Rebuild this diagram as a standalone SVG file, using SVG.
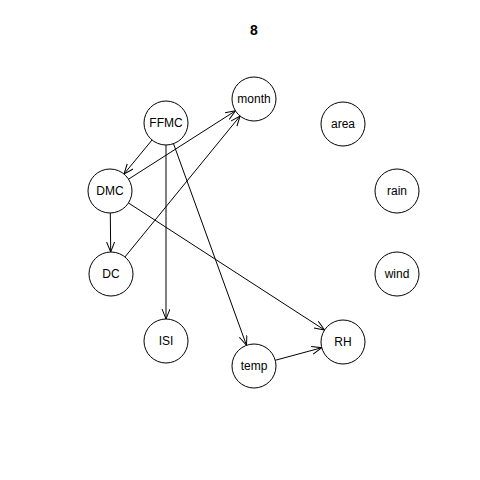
<svg xmlns="http://www.w3.org/2000/svg" width="480" height="480" viewBox="0 0 480 480">
<style>
.n circle{fill:#fff;stroke:#000;stroke-width:1}
.n text{font-family:"Liberation Sans",Arial,sans-serif;font-size:12px;text-anchor:middle;dominant-baseline:central;fill:#000}
.e line{stroke:#000;stroke-width:1;marker-end:url(#a)}
</style>
<defs>
<marker id="a" markerUnits="userSpaceOnUse" markerWidth="12" markerHeight="10" refX="10" refY="4" orient="auto">
<path d="M0,0 L10,4 L0,8" fill="none" stroke="#000" stroke-width="1"/>
</marker>
</defs>
<rect width="480" height="480" fill="#fff"/>
<text x="254" y="30" font-family="Liberation Sans,Arial,sans-serif" font-size="14" font-weight="bold" text-anchor="middle" dominant-baseline="central">8</text>
<g class="e" id="edges">
<line x1="152" y1="140" x2="124" y2="174"/>
<line x1="128.5" y1="179.2" x2="235.5" y2="110.8"/>
<line x1="124.9" y1="257" x2="240.1" y2="116"/>
<line x1="166" y1="145" x2="166" y2="319"/>
<line x1="173.5" y1="143.7" x2="246.5" y2="345.3"/>
<line x1="110.3" y1="213" x2="110.7" y2="252"/>
<line x1="128.5" y1="203" x2="324.5" y2="330"/>
<line x1="275.2" y1="360.3" x2="321.8" y2="347.7"/>
</g>
<g class="n" id="month"><circle cx="254" cy="99" r="22"/><text x="254" y="99">month</text></g>
<g class="n" id="area"><circle cx="343" cy="124" r="22"/><text x="343" y="124">area</text></g>
<g class="n" id="FFMC"><circle cx="166" cy="123" r="22"/><text x="166" y="123">FFMC</text></g>
<g class="n" id="DMC"><circle cx="110" cy="191" r="22"/><text x="110" y="191">DMC</text></g>
<g class="n" id="rain"><circle cx="397" cy="191" r="22"/><text x="397" y="191">rain</text></g>
<g class="n" id="DC"><circle cx="111" cy="274" r="22"/><text x="111" y="274">DC</text></g>
<g class="n" id="wind"><circle cx="397" cy="274" r="22"/><text x="397" y="274">wind</text></g>
<g class="n" id="ISI"><circle cx="166" cy="341" r="22"/><text x="166" y="341">ISI</text></g>
<g class="n" id="RH"><circle cx="343" cy="342" r="22"/><text x="343" y="342">RH</text></g>
<g class="n" id="temp"><circle cx="254" cy="366" r="22"/><text x="254" y="366">temp</text></g>
</svg>
